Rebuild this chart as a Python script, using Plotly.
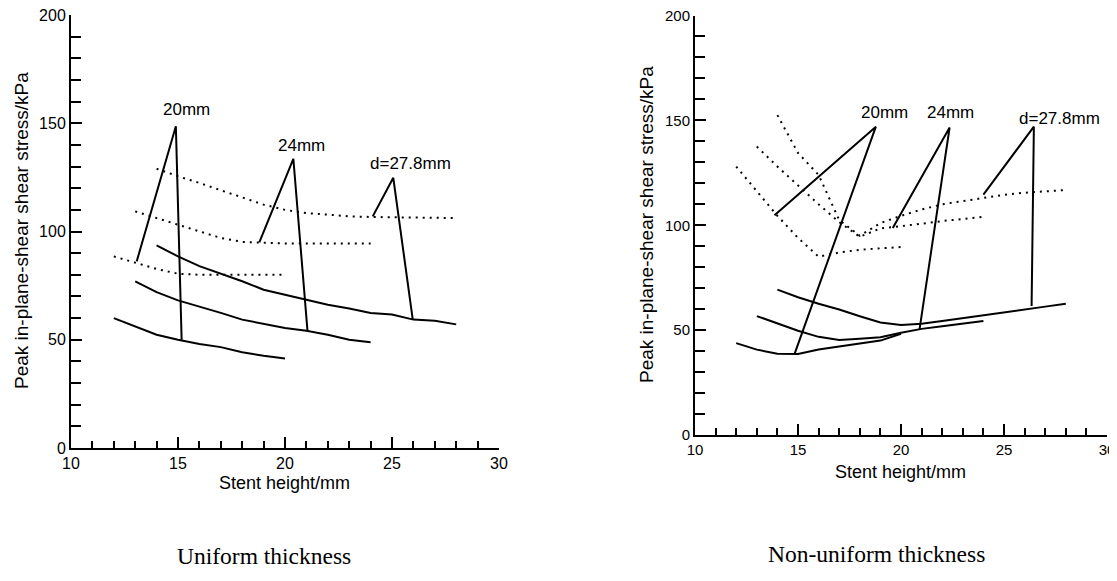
import plotly.graph_objects as go

# ---------------- Data: Uniform thickness (left) ----------------
u_x20 = [12, 13, 14, 15, 16, 17, 18, 19, 20]
u_solid20 = [60, 56, 52.3, 50, 48, 46.6, 44.2, 42.6, 41.3]
u_dot20 = [88.5, 85.5, 82.7, 80.5, 80, 80, 80, 80, 80]

u_x24 = [13, 14, 15, 16, 17, 18, 19, 20, 21, 22, 23, 24]
u_solid24 = [77, 72, 68.2, 65.4, 62.4, 59.3, 57.3, 55.4, 54.2, 52.3, 50, 48.8]
u_dot24 = [109.3, 106.2, 103.2, 99.8, 97, 95.2, 94.7, 94.5, 94.5, 94.5, 94.5, 94.5]

u_x28 = [14, 15, 16, 17, 18, 19, 20, 21, 22, 23, 24, 25, 26, 27, 28]
u_solid28 = [93.6, 88.5, 84, 80.5, 77, 73.1, 70.8, 68.5, 66.2, 64.4, 62.4, 61.7, 59.3, 58.8, 57.1]
u_dot28 = [129, 125.5, 122.4, 119, 115.5, 112.4, 110, 108.5, 107.8, 107, 106.7, 106.5, 106.4, 106.3, 106.2]

# label leader lines (start on dotted curve, apex, end on solid curve)
u_lead20_x = [13.07, 14.9, 15.17]
u_lead20_y = [86.2, 148.6, 50]
u_lead24_x = [18.8, 20.39, 21.05]
u_lead24_y = [95, 133.6, 54.2]
u_lead28_x = [24.1, 25.06, 25.97]
u_lead28_y = [107, 124.8, 59.3]

u_labels = ["20mm", "24mm", "d=27.8mm"]
u_label_x = [15.4, 20.78, 25.87]
u_label_y = [156.3, 139.8, 131.3]

# ---------------- Data: Non-uniform thickness (right) ----------------
n_x20 = [12, 13, 14, 15, 16, 17, 18, 19, 20]
n_solid20 = [43.8, 40.7, 38.7, 38.6, 40.8, 42.3, 43.8, 45, 48.3]
n_dot20 = [128, 116, 104.5, 94, 85, 87, 88.3, 89, 89.6]

n_x24 = [13, 14, 15, 16, 17, 18, 19, 20, 21, 22, 23, 24]
n_solid24 = [56.7, 53.2, 49.7, 46.8, 45.3, 45.9, 46.6, 48.7, 50.6, 51.9, 53.1, 54.3]
n_dot24 = [137.5, 128, 119, 110, 101.5, 94.5, 98.5, 99.5, 100.7, 102, 103, 104]

n_x28 = [14, 15, 16, 17, 18, 19, 20, 21, 22, 23, 24, 25, 26, 27, 28]
n_solid28 = [69.3, 65.7, 62.6, 59.8, 56.6, 53.6, 52.5, 53, 54.4, 55.7, 57.1, 58.5, 59.9, 61.2, 62.6]
n_dot28 = [152.5, 134.5, 124, 102.5, 95, 101, 104.5, 107.5, 110, 111.5, 113, 114.5, 115.5, 116, 116.8]

n_lead20_x = [13.86, 18.78, 14.83]
n_lead20_y = [104.8, 147, 38.6]
n_lead24_x = [19.6, 22.36, 20.9]
n_lead24_y = [98.7, 146.6, 50.4]
n_lead28_x = [24.0, 26.45, 26.34]
n_lead28_y = [114.6, 147, 61.5]

n_labels = ["20mm", "24mm", "d=27.8mm"]
n_label_x = [19.2, 22.4, 27.7]
n_label_y = [153.8, 153.8, 150.8]

x_major = [10, 15, 20, 25, 30]
y_major = [0, 50, 100, 150, 200]

SANS = "Liberation Sans, Arial, Helvetica, sans-serif"
SERIF = "Liberation Serif, Times New Roman, serif"
LW = 2
DOT = "2px,5px"

fig = go.Figure()


def add_line(x, y, xa, ya, dash="solid"):
    fig.add_trace(go.Scatter(x=x, y=y, mode="lines", xaxis=xa, yaxis=ya,
                             line=dict(color="black", width=LW, dash=dash),
                             showlegend=False, hoverinfo="skip"))


# Left
for x, s, d in [(u_x20, u_solid20, u_dot20), (u_x24, u_solid24, u_dot24), (u_x28, u_solid28, u_dot28)]:
    add_line(x, s, "x", "y")
    add_line(x, d, "x", "y", dash=DOT)
for lx, ly in [(u_lead20_x, u_lead20_y), (u_lead24_x, u_lead24_y), (u_lead28_x, u_lead28_y)]:
    add_line(lx, ly, "x", "y")

# Right
for x, s, d in [(n_x20, n_solid20, n_dot20), (n_x24, n_solid24, n_dot24), (n_x28, n_solid28, n_dot28)]:
    add_line(x, s, "x2", "y2")
    add_line(x, d, "x2", "y2", dash=DOT)
for lx, ly in [(n_lead20_x, n_lead20_y), (n_lead24_x, n_lead24_y), (n_lead28_x, n_lead28_y)]:
    add_line(lx, ly, "x2", "y2")

W, H = 1117, 581
OFF = 8  # page body margin offset of the embedded figure


def xdom(a, b):
    return [(a - OFF) / W, (b - OFF) / W]


def ydom(top, bottom):
    return [1 - (bottom - OFF) / H, 1 - (top - OFF) / H]


TICKFONT = dict(family=SANS, size=16, color="black")
TICKFONT_R = dict(family=SANS, size=15, color="black")

xaxis_common = dict(range=[10, 30], tickmode="array", tickvals=x_major,
                    ticktext=[str(v) for v in x_major],
                    ticks="inside", ticklen=11, tickwidth=2, tickcolor="black",
                    showline=True, linewidth=2, linecolor="black", showgrid=False,
                    zeroline=False, mirror=False, automargin=False,
                    ticklabeloverflow="allow",
                    minor=dict(tickmode="linear", tick0=10, dtick=1, ticks="inside",
                               ticklen=7, tickwidth=2, tickcolor="black", showgrid=False),
                    tickfont=TICKFONT, fixedrange=True)
yaxis_common = dict(range=[0, 200], tickmode="array", tickvals=y_major,
                    ticktext=[str(v) for v in y_major],
                    ticks="inside", ticklen=11, tickwidth=2, tickcolor="black",
                    showline=True, linewidth=2, linecolor="black", showgrid=False,
                    zeroline=False, mirror=False, automargin=False,
                    ticklabeloverflow="allow",
                    minor=dict(tickmode="linear", tick0=0, dtick=10, ticks="inside",
                               ticklen=10, tickwidth=2, tickcolor="black", showgrid=False),
                    tickfont=TICKFONT, fixedrange=True)

fig.update_layout(
    width=W, height=H, autosize=False,
    margin=dict(l=0, r=0, t=0, b=0, pad=0),
    paper_bgcolor="white", plot_bgcolor="white",
    showlegend=False,
    xaxis=dict(xaxis_common, domain=xdom(71, 499), anchor="y"),
    yaxis=dict(yaxis_common, domain=ydom(15, 448), anchor="x"),
    xaxis2=dict(xaxis_common, domain=xdom(695, 1107), anchor="y2", tickfont=TICKFONT_R),
    yaxis2=dict(yaxis_common, domain=ydom(15.5, 435), anchor="x2", tickfont=TICKFONT_R),
)

annots = []
for t, x, y in zip(u_labels, u_label_x, u_label_y):
    annots.append(dict(text=t, x=x, y=y, xref="x", yref="y", showarrow=False,
                       xanchor="center", yanchor="middle",
                       font=dict(family=SANS, size=17, color="black")))
for t, x, y in zip(n_labels, n_label_x, n_label_y):
    annots.append(dict(text=t, x=x, y=y, xref="x2", yref="y2", showarrow=False,
                       xanchor="center", yanchor="middle",
                       font=dict(family=SANS, size=17, color="black")))


def pa(text, px, py, size, family, angle=0):
    return dict(text=text, x=(px - OFF) / W, y=1 - (py - OFF) / H, xref="paper", yref="paper",
                showarrow=False, textangle=angle, xanchor="center", yanchor="middle",
                font=dict(family=family, size=size, color="black"))


annots += [
    pa("Peak in-plane-shear shear stress/kPa", 21, 231, 19, SANS, -90),
    pa("Stent height/mm", 284, 483, 18, SANS),
    pa("Peak in-plane-shear shear stress/kPa", 646, 225, 19, SANS, -90),
    pa("Stent height/mm", 900, 472, 18, SANS),
    pa("Uniform thickness", 264, 556, 23.5, SERIF),
    pa("Non-uniform thickness", 876, 554, 23.5, SERIF),
]
fig.update_layout(annotations=annots)

fig.write_html("out.html")
